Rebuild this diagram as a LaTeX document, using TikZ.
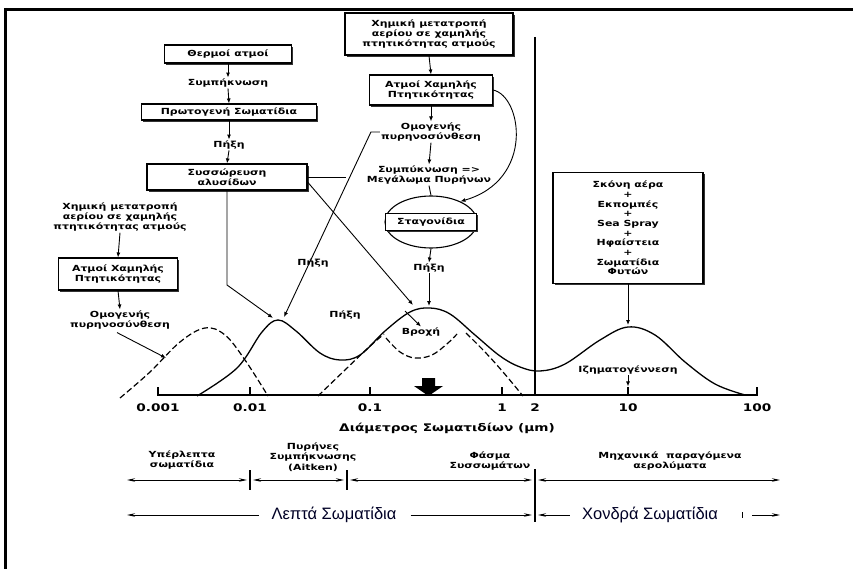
\documentclass[tikz,border=0pt]{standalone}
\usepackage{fontspec}
\setmainfont{DejaVu Sans}
\newfontfamily\gf[FakeStretch=1.3]{DejaVu Sans Bold}
\newfontfamily\af{Liberation Sans}
\usetikzlibrary{arrows.meta,shadows,shapes.geometric,calc}
\tikzset{
  box/.style={draw,line width=1.1pt,fill=white,inner sep=1pt,align=center,
    font=\gf\fontsize{8.4}{10.3}\selectfont,
    drop shadow={shadow xshift=1.6pt,shadow yshift=-1.6pt,fill=black!80,opacity=1}},
  lbl/.style={inner sep=1pt,align=center,font=\gf\fontsize{8.4}{10.3}\selectfont},
  tick/.style={inner sep=0pt,font=\gf\fontsize{10.5}{12}\selectfont},
  arr/.style={-{Latex[length=5pt,width=4pt]},line width=0.9pt},
  conn/.style={line width=0.9pt},
  solidc/.style={line width=1.3pt},
  dashc/.style={line width=1.2pt,dash pattern=on 6pt off 3pt},
  span/.style={{Stealth[length=8pt,width=3.5pt]}-{Stealth[length=8pt,width=3.5pt]},line width=0.9pt},
  lspan/.style={{Stealth[length=8pt,width=3.5pt]}-,line width=0.9pt},
  rspan/.style={-{Stealth[length=8pt,width=3.5pt]},line width=0.9pt},
  big/.style={inner sep=0pt,font=\af\fontsize{16.5}{18}\selectfont,text=black!85!blue}
}
\begin{document}
\begin{tikzpicture}[x=1pt,y=-1pt]
\fill[white] (0,0) rectangle (853,569);
\useasboundingbox (0,0) rectangle (853,569);
% frame
\draw[line width=3pt] (4,9.5) -- (853,9.5);
\draw[line width=3pt] (5.5,8) -- (5.5,569);

% ---------- left flow ----------
\node[box,minimum width=127pt,minimum height=18pt] (n1) at (228,54) {Θερμοί ατμοί};
\node[lbl] (t1) at (228,83) {Συμπήκνωση};
\node[box,minimum width=175pt,minimum height=16pt] (n2) at (229,112) {Πρωτογενή Σωματίδια};
\node[lbl] (t2) at (229,145) {Πήξη};
\node[box,minimum width=160pt,minimum height=26pt] (n3) at (227,177) {Συσσώρευση\\αλυσίδων};
\draw[arr] (n1.south) -- (t1.north);
\draw[arr] (t1.south) -- (n2.north);
\draw[arr] (n2.south) -- (t2.north);
\draw[arr] (t2.south) -- (n3.north);

% ---------- left second flow ----------
\node[lbl] (t3) at (120,217) {Χημική μετατροπή\\αερίου σε χαμηλής\\πτητικότητας ατμούς};
\node[box,minimum width=119pt,minimum height=32pt] (n4) at (118,274) {Ατμοί Χαμηλής\\Πτητικότητας};
\node[lbl] (t4) at (120,320) {Ομογενής\\πυρηνοσύνθεση};
\draw[arr] (t3.south) -- (n4.north);
\draw[arr] (n4.south) -- (t4.north);

% ---------- middle flow ----------
\node[box,minimum width=168pt,minimum height=42pt] (m1) at (429,34) {Χημική μετατροπή\\αερίου σε χαμηλής\\πτητικότητας ατμούς};
\node[box,minimum width=123pt,minimum height=30pt] (m2) at (431,90) {Ατμοί Χαμηλής\\Πτητικότητας};
\node[lbl] (m3) at (431,132) {Ομογενής\\πυρηνοσύνθεση};
\node[lbl] (m4) at (429,175) {Συμπύκνωση =>\\Μεγάλωμα Πυρήνων};
\node[draw,ellipse,line width=1.1pt,minimum width=92pt,minimum height=52pt] (e) at (431,222) {};
\node[box,minimum width=91pt,minimum height=17pt] (m5) at (431,222) {Σταγονίδια};
\node[lbl] (p3) at (429,268) {Πήξη};
\draw[arr] (m1.south) -- (m2.north);
\draw[arr] (m2.south) -- (m3.north);
\draw[arr] (m3.south) -- (m4.north);
\draw[conn] (m4.south) -- (e.north);
\draw[arr] (e.south) -- (p3.north);
\draw[arr] (m2.east) .. controls (522,96) and (535,180) .. (e.35);

% ---------- right box ----------
\node[box,minimum width=150pt,minimum height=111pt,font=\gf\fontsize{8.4}{9.7}\selectfont] (r1) at (628,228)
  {Σκόνη αέρα\\+\\Εκπομπές\\+\\Sea Spray\\+\\Ηφαίστεια\\+\\Σωματίδια\\Φυτών};
\node[lbl] (iz) at (628,370) {Ιζηματογέννεση};
\coordinate (pk3) at (628,325);
\draw[arr] (r1.south) -- (pk3);
\draw[arr] (iz.south) -- ++(0,11);

% ---------- divider ----------
\coordinate (dv1) at (535,37);
\coordinate (dv2) at (535,395);
\draw[line width=1.2pt] (dv1) -- (dv2);

% ---------- curves ----------
\draw[solidc] plot[smooth,tension=0.6] coordinates {(197,396) (237,368) (262,332) (278,320) (296,331) (320,353) (340,360) (360,355) (385,331) (410,312) (430,308) (450,314) (475,335) (500,356) (520,367) (540,371) (565,364) (600,340) (628,327) (655,335) (685,362) (715,384) (745,395)};
\draw[dashc] plot[smooth,tension=0.6] coordinates {(120,398) (150,372) (180,342) (205,328) (225,335) (245,360) (268,396)};
\draw[dashc] plot[smooth,tension=0.6] coordinates {(318,396) (345,370) (368,348) (384,334)};
\draw[dashc] plot[smooth,tension=0.6] coordinates {(386,338) (400,352) (415,358) (432,355) (448,343) (457,334)};
\draw[dashc] plot[smooth,tension=0.6] coordinates {(466,333) (485,352) (503,372) (523,396)};

% ---------- arrows onto the curves ----------
\coordinate (pkA) at (273,318);
\coordinate (pkB) at (284,317);
\coordinate (pkC) at (413,305);
\coordinate (pk2) at (429,306);
\coordinate (dn) at (166,358);
\draw[arr] (n3.south) -- (227,285) -- (pkA);
\draw[arr] (m3.west) -- ++(-9,0) -- (pkB);
\draw[conn] (n3.east) -- ++(38,0);
\draw[arr] ($(n3.east)+(0,5)$) -- (pkC);
\draw[arr] (p3.south) -- (pk2);
\draw[arr] (t4.south) ++(-3,2) -- (dn);
\node[lbl] (px1) at (313,263) {Πήξη};
\node[lbl] (px2) at (345,315) {Πήξη};
\node[lbl] (br) at (421,332) {Βροχή};
\draw[arr] (405,311) -- (br.north);

% big black arrow
\fill (422,378) -- (435,378) -- (435,386) -- (443,386) -- (428.5,396) -- (414,386) -- (422,386) -- cycle;

% ---------- axis ----------
\draw[line width=1.2pt] (158,387) -- (158,395) -- (757,395) -- (757,387);
\foreach \x in {250,370,502,628} \draw[line width=1.2pt] (\x,387) -- (\x,395);
\node[tick] (l1) at (158,408) {0.001};
\node[tick] (l2) at (250,408) {0.01};
\node[tick] (l3) at (370,408) {0.1};
\node[tick] (l4) at (502,408) {1};
\node[tick] (l5) at (535,408) {2};
\node[tick] (l6) at (628,408) {10};
\node[tick] (l7) at (757,408) {100};
\node[tick] (xl) at (447,428) {Διάμετρος Σωματιδίων (μm)};

% ---------- bottom ranges ----------
\node[lbl] (b1) at (182,460) {Υπέρλεπτα\\σωματίδια};
\node[lbl] (b2) at (313,457) {Πυρήνες\\Συμπήκνωσης\\(Aitken)};
\node[lbl] (b3) at (490,461) {Φάσμα\\Συσσωμάτων};
\node[lbl] (b4) at (670,461) {Μηχανικά\ \ παραγόμενα\\αερολύματα};
\coordinate (s1) at (127,480); \coordinate (s2) at (247,480);
\coordinate (s3) at (253,480); \coordinate (s4) at (344,480);
\coordinate (s5) at (350,480); \coordinate (s6) at (532,480);
\coordinate (s7) at (538,480); \coordinate (s8) at (780,480);
\draw[span] (s1) -- (s2);
\draw[span] (s3) -- (s4);
\draw[span] (s5) -- (s6);
\draw[span] (s7) -- (s8);
\draw[line width=1.2pt] (250,470) -- (250,490);
\draw[line width=1.2pt] (347,470) -- (347,490);
\draw[line width=1.2pt] (535,469) -- (535,522);

\node[big] (fine) at (334,515) {Λεπτά Σωματίδια};
\node[big] (coarse) at (650,515) {Χονδρά Σωματίδια};
\coordinate (f1) at (127,515); \coordinate (f2) at (532,515);
\coordinate (c1) at (538,515); \coordinate (c2) at (780,515);
\draw[lspan] (f1) -- ($(fine.west)+(-12,0)$);
\draw[rspan] ($(fine.east)+(14,0)$) -- (f2);
\draw[lspan] (c1) -- ($(coarse.west)+(-12,0)$);
\draw[line width=0.8pt] (742,512) -- (742,518);
\draw[rspan] (752,515) -- (c2);
\end{tikzpicture}
\end{document}
